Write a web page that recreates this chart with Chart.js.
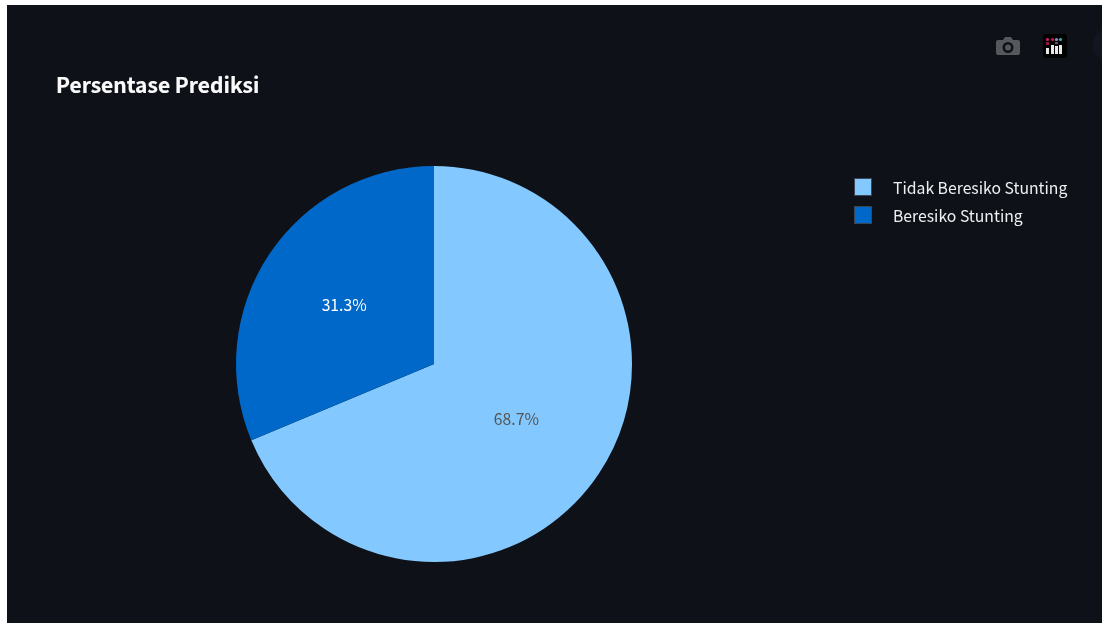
<!DOCTYPE html>
<html>
<head>
<meta charset="utf-8">
<title>Persentase Prediksi</title>
<script src="https://cdn.jsdelivr.net/npm/chart.js@4/dist/chart.umd.min.js"></script>
<style>
  html, body { margin: 0; padding: 0; background: #fff; overflow: hidden; }
  body { width: 1102px; height: 623px; position: relative; font-family: "Noto Sans CJK SC", "Noto Sans", sans-serif; }
  #panel { position: absolute; left: 7px; top: 5px; width: 1095px; height: 618px; background: #0e1117; overflow: hidden; }
  #corner { position: absolute; left: 1086px; top: 21px; width: 40px; height: 38px; border-radius: 50%; background: #12161e; }
  #pie { position: absolute; left: 0; top: 0; }
  #title { position: absolute; left: 56px; top: 69px; line-height: 30px; font-size: 21px; font-weight: 700; color: #fafafa; white-space: nowrap; -webkit-text-stroke: 0.2px #fafafa; }
  #legend { position: absolute; left: 854px; top: 173px; }
  .item { height: 28px; display: flex; align-items: center; color: #eef0f2; font-size: 15.75px; white-space: nowrap; }
  .box { width: 16px; height: 16px; border: 1px solid #3b4654; margin-right: 21px; box-sizing: content-box; }
  #camera { position: absolute; left: 996px; top: 36px; }
  #logo { position: absolute; left: 1043px; top: 34px; }
</style>
</head>
<body>
<div id="panel"><div id="corner"></div></div>
<canvas id="pie" width="1102" height="623"></canvas>
<div id="title">Persentase Prediksi</div>
<div id="legend"></div>

<!-- modebar icons -->
<svg id="camera" width="24" height="20" viewBox="0 0 24 20">
  <path fill="#55585d" fill-rule="evenodd" d="M2 4h5l2-3h6l2 3h5a2 2 0 0 1 2 2v11a2 2 0 0 1-2 2H2a2 2 0 0 1-2-2V6a2 2 0 0 1 2-2zM12 6a5.500 5.500 0 1 0 0 11a5.500 5.500 0 0 0 0-11zM12 8.500a3 3 0 1 1 0 6a3 3 0 0 1 0-6z"/>
</svg>
<svg id="logo" width="24" height="24" viewBox="0 0 24 24">
  <rect width="24" height="24" rx="3" fill="#000"/>
  <rect x="3" y="14" width="3" height="6" fill="#e8e8e8"/>
  <rect x="8" y="11" width="3" height="9" fill="#e8e8e8"/>
  <rect x="12" y="12" width="3" height="8" fill="#e8e8e8"/>
  <rect x="16" y="11" width="3" height="9" fill="#e8e8e8"/>
  <circle cx="4.500" cy="5.500" r="1.600" fill="#d81b60"/>
  <rect x="3" y="8" width="3" height="3" fill="#8e1544"/>
  <circle cx="9.500" cy="5.500" r="1.600" fill="#c2185b"/>
  <circle cx="13.500" cy="5.500" r="1.600" fill="#9a86b8"/>
  <rect x="12" y="8" width="3" height="2" fill="#5b4a78"/>
  <circle cx="17.500" cy="5.500" r="1.600" fill="#36a9b5"/>
</svg>

<script>
const categories = ['Tidak Beresiko Stunting', 'Beresiko Stunting'];
const percentages = [68.7, 31.3];
const sliceColors = ['#83c9ff', '#0068c9'];
const labelColors = ['#555555', '#ffffff'];

// the small slice carries its label a bit further out than the big one
const labelRadius = [0.5, 0.545];

// legend next to the pie
const legendBox = document.getElementById('legend');
categories.forEach((name, i) => {
    const row = document.createElement('div');
    row.className = 'item';
    const box = document.createElement('span');
    box.className = 'box';
    box.style.background = sliceColors[i];
    const text = document.createElement('span');
    text.textContent = name;
    row.append(box, text);
    legendBox.appendChild(row);
});

// writes the percentage inside each slice
const sliceLabels = {
    id: 'sliceLabels',
    afterDatasetsDraw(chart) {
        const { ctx } = chart;
        chart.getDatasetMeta(0).data.forEach((arc, i) => {
            const mid = (arc.startAngle + arc.endAngle) / 2;
            const r = arc.outerRadius * labelRadius[i];
            ctx.save();
            ctx.font = '15.75px "Noto Sans CJK SC", "Noto Sans", sans-serif';
            ctx.fillStyle = labelColors[i];
            ctx.textAlign = 'center';
            ctx.textBaseline = 'middle';
            ctx.fillText(percentages[i].toFixed(1) + '%', arc.x + Math.cos(mid) * r, arc.y + Math.sin(mid) * r + 0.5);
            ctx.restore();
        });
    }
};

new Chart(document.getElementById('pie').getContext('2d'), {
    type: 'pie',
    data: {
        labels: categories,
        datasets: [{ data: percentages, backgroundColor: sliceColors, borderWidth: 0 }]
    },
    options: {
        responsive: false,
        animation: false,
        layout: { padding: { left: 236, right: 470, top: 166, bottom: 61 } },
        plugins: { legend: { display: false }, tooltip: { enabled: false } }
    },
    plugins: [sliceLabels]
});
</script>
</body>
</html>
